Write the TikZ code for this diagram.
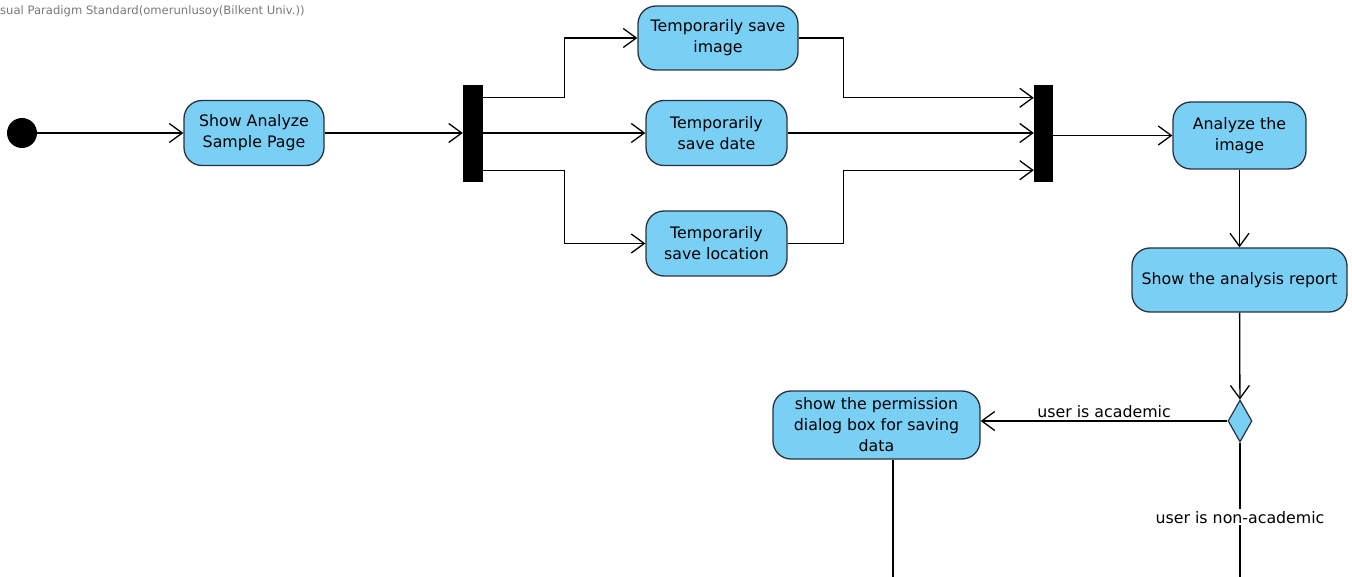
\documentclass[tikz,border=0pt]{standalone}
\usepackage{fontspec}
\setmainfont{DejaVu Sans}
\usetikzlibrary{arrows.meta,shapes.geometric}
\definecolor{actfill}{RGB}{122,207,245}
\definecolor{actdraw}{RGB}{40,50,60}
\definecolor{hdrgray}{RGB}{120,120,120}
\begin{document}
\begin{tikzpicture}[x=1pt,y=-1pt,
  act/.style={draw=actdraw, line width=1.3pt, fill=actfill, rounded corners=18pt, align=center,
    font=\fontsize{15.8}{21}\selectfont, inner sep=0pt},
  bar/.style={fill=black, inner sep=0pt},
  flow/.style={line width=1.3pt, -{Straight Barb[length=13pt,width=19pt,line width=1.3pt]}},
  plain/.style={line width=1.3pt},
  lbl/.style={font=\fontsize{15.8}{18}\selectfont, inner sep=2pt}]
\useasboundingbox (0,0) rectangle (1352,577);

\node[anchor=west, text=hdrgray, font=\fontsize{11.6}{13}\selectfont, inner sep=0pt] (hdr) at (0,11)
  {sual Paradigm Standard(omerunlusoy(Bilkent Univ.))};

\node[circle, fill=black, minimum size=30pt, inner sep=0pt] (init) at (22,133) {};
\node[act, minimum width=140pt, minimum height=65pt] (show) at (254,133) {Show Analyze\\Sample Page};
\node[bar, minimum width=20pt, minimum height=97pt] (fork1) at (473,133.5) {};
\node[act, minimum width=160pt, minimum height=64pt] (box1) at (718,38) {Temporarily save\\image};
\node[act, minimum width=141pt, minimum height=65pt] (box2) at (716.5,133) {Temporarily\\save date};
\node[act, minimum width=141pt, minimum height=65pt] (box3) at (716.5,243.5) {Temporarily\\save location};
\node[bar, minimum width=19pt, minimum height=97pt] (fork2) at (1043.5,133.5) {};
\node[act, minimum width=133pt, minimum height=67pt] (analyze) at (1239.5,135.5) {Analyze the\\image};
\node[act, minimum width=215pt, minimum height=64pt] (report) at (1239.5,280) {Show the analysis report};
\node[diamond, draw=actdraw, line width=1.2pt, fill=actfill, minimum width=24pt, minimum height=42pt, inner sep=0pt] (dec) at (1240,421) {};
\node[act, minimum width=207pt, minimum height=68pt] (perm) at (876.5,425) {show the permission\\dialog box for saving\\data};
\coordinate (end1) at (1240,577);
\coordinate (end2) at (893,577);

\draw[flow] (init) -- (show);
\draw[flow] (show) -- (show -| fork1.west);
\draw[flow] ([yshift=-13pt]fork1.north east) -- ++(81,0) |- (box1.west);
\draw[flow] (box2 -| fork1.east) -- (box2);
\draw[flow] ([yshift=12pt]fork1.south east) -- ++(81,0) |- (box3.west);
\draw[flow] (box1.east) -- ++(45,0) |- ([yshift=-13pt]fork2.north west);
\draw[flow] (box2) -- (box2 -| fork2.west);
\draw[flow] (box3.east) -- ++(56,0) |- ([yshift=12pt]fork2.south west);
\draw[flow] (fork2.east |- analyze) -- (analyze);
\draw[flow] (analyze) -- (report);
\draw[flow] (report) -- (dec);
\draw[flow] (dec.west) -- node[lbl, above=1pt] {user is academic} (perm.east |- dec.west);
\draw[plain] (dec.south) -- node[lbl, pos=0.556, fill=white] {user is non-academic} (end1);
\draw[plain] (perm.south -| end2) -- (end2);
\end{tikzpicture}
\end{document}
